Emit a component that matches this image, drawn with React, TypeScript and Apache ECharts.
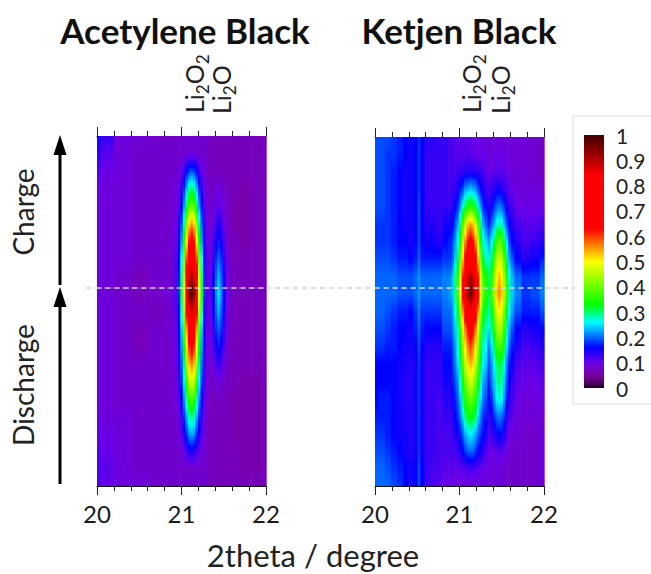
import React, { useEffect, useRef } from "react";
import * as echarts from "echarts";

const chartTitles = ["Acetylene Black", "Ketjen Black"];
const axisTitle = "2theta / degree";
const colorbarTicks = [0, 0.1, 0.2, 0.3, 0.4, 0.5, 0.6, 0.7, 0.8, 0.9, 1];

// Progress through the run (bottom = 0, top = 100) at which every column is sampled
const rowPositions = [0, 5, 10, 15, 20, 25, 30, 35, 40, 45, 50, 55, 60, 65, 70, 75, 80, 85, 90, 95, 100];

// Colour scale: value, colour
const colorStops: [number, string][] = [
  [0, "#200028"], [0.02, "#500060"], [0.05, "#7a00a0"], [0.1, "#6a00e8"], [0.16, "#0000ff"],
  [0.26, "#00ffff"], [0.33, "#00ff00"], [0.5, "#ffff00"], [0.63, "#ff0000"], [0.84, "#ff0000"], [1, "#400000"],
];

const acetyleneX = [20.0, 20.1, 20.3, 20.5, 20.7, 20.85, 20.94, 20.97, 21.0, 21.03, 21.06, 21.09, 21.12, 21.15, 21.18, 21.21, 21.24, 21.27, 21.3, 21.34, 21.38, 21.41, 21.44, 21.47, 21.5, 21.54, 21.62, 21.75, 21.9, 22.0];
const acetyleneValues = [
  [.11,.12,.11,.10,.10,.09,.09,.09,.09,.09,.09,.09,.09,.09,.09,.09,.09,.10,.11,.13,.15],
  [.10,.11,.10,.10,.09,.09,.09,.09,.09,.09,.09,.09,.09,.09,.09,.09,.09,.09,.10,.11,.13],
  [.09,.09,.09,.09,.09,.08,.08,.08,.08,.08,.08,.08,.08,.09,.09,.09,.09,.09,.09,.09,.09],
  [.09,.08,.08,.08,.08,.08,.08,.08,.07,.07,.08,.07,.07,.08,.08,.08,.08,.08,.08,.08,.09],
  [.08,.08,.08,.08,.08,.08,.08,.08,.08,.08,.07,.08,.08,.08,.08,.08,.08,.08,.08,.08,.08],
  [.08,.08,.08,.08,.08,.08,.08,.08,.08,.08,.08,.09,.08,.08,.08,.08,.08,.08,.08,.08,.08],
  [.08,.08,.08,.08,.08,.09,.09,.10,.10,.10,.11,.11,.11,.11,.10,.10,.09,.09,.08,.08,.08],
  [.08,.08,.08,.09,.10,.11,.12,.13,.14,.15,.16,.18,.17,.16,.14,.13,.11,.10,.09,.08,.08],
  [.08,.08,.09,.11,.13,.15,.18,.20,.22,.24,.28,.31,.29,.26,.22,.19,.16,.13,.10,.08,.08],
  [.08,.08,.11,.15,.18,.22,.26,.30,.34,.39,.45,.50,.46,.41,.35,.29,.22,.18,.13,.08,.08],
  [.08,.08,.12,.18,.23,.29,.36,.43,.49,.55,.65,.73,.67,.59,.50,.41,.31,.23,.16,.09,.08],
  [.08,.08,.14,.22,.28,.36,.45,.53,.61,.70,.82,.93,.85,.74,.62,.51,.37,.28,.18,.09,.08],
  [.08,.08,.15,.23,.30,.38,.48,.57,.66,.75,.88,1.0,.92,.80,.67,.55,.40,.30,.19,.09,.08],
  [.08,.08,.14,.22,.28,.36,.45,.53,.61,.70,.82,.93,.85,.74,.62,.51,.37,.28,.18,.09,.08],
  [.08,.08,.12,.18,.23,.29,.36,.43,.49,.55,.65,.73,.67,.59,.50,.41,.31,.23,.16,.09,.08],
  [.08,.08,.11,.15,.18,.22,.26,.30,.34,.39,.45,.50,.46,.41,.35,.29,.22,.18,.13,.08,.08],
  [.08,.08,.09,.11,.13,.15,.18,.20,.22,.24,.28,.31,.29,.26,.22,.19,.16,.13,.10,.08,.08],
  [.08,.08,.08,.09,.10,.11,.12,.13,.14,.15,.16,.18,.17,.16,.14,.13,.11,.10,.09,.08,.08],
  [.08,.08,.08,.08,.08,.09,.09,.10,.10,.10,.11,.11,.11,.11,.10,.10,.09,.09,.08,.08,.08],
  [.07,.07,.07,.07,.07,.07,.08,.08,.09,.09,.10,.11,.10,.09,.09,.08,.08,.07,.07,.07,.07],
  [.07,.07,.07,.07,.07,.07,.08,.10,.12,.13,.15,.16,.15,.13,.12,.10,.09,.08,.07,.07,.07],
  [.07,.07,.07,.07,.07,.07,.09,.12,.15,.18,.20,.22,.20,.18,.15,.13,.10,.09,.07,.07,.07],
  [.07,.07,.07,.07,.07,.07,.09,.13,.17,.20,.23,.25,.23,.20,.17,.14,.11,.09,.07,.07,.07],
  [.07,.07,.07,.07,.07,.07,.09,.12,.15,.18,.20,.22,.20,.18,.15,.13,.10,.09,.07,.07,.07],
  [.07,.07,.07,.07,.07,.07,.08,.10,.12,.13,.15,.16,.15,.13,.12,.10,.09,.08,.07,.07,.07],
  [.07,.07,.07,.07,.07,.07,.07,.08,.08,.09,.09,.10,.09,.09,.08,.08,.08,.07,.07,.07,.07],
  [.07,.07,.07,.06,.06,.06,.07,.07,.07,.07,.07,.07,.07,.07,.07,.06,.06,.07,.07,.07,.07],
  [.07,.06,.06,.06,.06,.06,.06,.07,.07,.07,.07,.07,.07,.07,.06,.06,.06,.06,.07,.07,.07],
  [.07,.06,.06,.06,.06,.06,.06,.07,.07,.07,.07,.07,.07,.07,.07,.07,.07,.07,.07,.07,.07],
  [.07,.07,.07,.07,.07,.07,.07,.07,.07,.07,.07,.07,.07,.07,.07,.07,.07,.07,.07,.07,.07],
];

const ketjenX = [20.0, 20.08, 20.15, 20.22, 20.3, 20.36, 20.42, 20.49, 20.52, 20.55, 20.62, 20.68, 20.75, 20.84, 20.89, 20.92, 20.95, 20.98, 21.01, 21.04, 21.07, 21.1, 21.13, 21.16, 21.19, 21.22, 21.25, 21.28, 21.31, 21.35, 21.38, 21.41, 21.44, 21.47, 21.5, 21.53, 21.56, 21.59, 21.62, 21.68, 21.78, 21.9, 22.0];
const ketjenValues = [
  [.20,.20,.19,.18,.17,.16,.16,.16,.18,.19,.20,.20,.20,.19,.18,.18,.19,.19,.19,.19,.19],
  [.20,.20,.19,.18,.17,.17,.16,.16,.18,.19,.20,.20,.20,.19,.18,.18,.19,.19,.19,.19,.19],
  [.20,.19,.18,.17,.17,.17,.16,.16,.17,.18,.19,.20,.20,.19,.18,.18,.18,.18,.18,.18,.19],
  [.19,.18,.17,.16,.16,.16,.16,.16,.17,.17,.18,.20,.20,.18,.17,.17,.17,.17,.17,.18,.18],
  [.18,.17,.16,.15,.15,.15,.15,.15,.16,.16,.17,.19,.19,.17,.16,.16,.16,.16,.16,.17,.17],
  [.16,.16,.15,.15,.15,.14,.14,.15,.15,.16,.17,.19,.19,.17,.16,.15,.15,.15,.15,.16,.16],
  [.15,.15,.14,.14,.14,.14,.14,.14,.15,.15,.16,.19,.19,.16,.15,.15,.15,.15,.15,.15,.15],
  [.16,.16,.15,.15,.15,.15,.15,.15,.16,.17,.18,.20,.20,.17,.16,.16,.16,.16,.16,.16,.16],
  [.19,.19,.18,.18,.18,.18,.18,.18,.19,.20,.21,.22,.22,.20,.19,.19,.19,.18,.18,.18,.18],
  [.16,.16,.15,.15,.15,.15,.15,.15,.16,.17,.18,.20,.20,.17,.16,.16,.16,.16,.16,.16,.16],
  [.13,.13,.13,.13,.13,.13,.13,.13,.14,.16,.18,.20,.20,.17,.15,.14,.13,.13,.13,.13,.14],
  [.12,.12,.13,.13,.13,.13,.13,.13,.14,.16,.18,.20,.20,.17,.15,.14,.13,.13,.13,.13,.14],
  [.11,.12,.12,.12,.12,.12,.13,.13,.14,.16,.18,.20,.20,.17,.14,.13,.13,.13,.13,.13,.13],
  [.10,.11,.12,.12,.13,.14,.15,.16,.17,.19,.20,.21,.21,.18,.16,.15,.13,.13,.13,.13,.13],
  [.10,.11,.12,.12,.13,.14,.15,.16,.17,.19,.20,.22,.21,.18,.17,.15,.13,.12,.12,.12,.12],
  [.10,.11,.12,.13,.14,.15,.17,.18,.19,.21,.22,.24,.24,.20,.19,.16,.14,.13,.12,.12,.12],
  [.09,.10,.12,.14,.16,.17,.19,.21,.22,.24,.26,.29,.29,.24,.22,.19,.16,.13,.12,.11,.11],
  [.09,.11,.13,.15,.18,.20,.22,.25,.27,.29,.33,.38,.36,.31,.27,.23,.18,.15,.13,.11,.11],
  [.09,.11,.15,.17,.21,.24,.27,.31,.34,.37,.43,.50,.48,.41,.35,.30,.22,.17,.13,.11,.11],
  [.09,.11,.16,.20,.25,.29,.34,.38,.42,.47,.56,.66,.62,.53,.45,.38,.27,.19,.13,.11,.11],
  [.09,.12,.18,.23,.30,.35,.40,.46,.51,.57,.69,.82,.77,.65,.56,.46,.31,.22,.14,.11,.11],
  [.09,.12,.20,.25,.33,.38,.45,.52,.57,.64,.78,.93,.88,.74,.63,.53,.35,.23,.14,.11,.11],
  [.09,.12,.20,.26,.34,.40,.47,.54,.60,.67,.82,.98,.92,.78,.66,.55,.36,.24,.14,.11,.10],
  [.09,.12,.20,.25,.33,.38,.45,.52,.57,.64,.78,.93,.88,.74,.63,.53,.35,.23,.14,.11,.10],
  [.09,.12,.18,.23,.30,.35,.40,.46,.51,.57,.69,.82,.77,.65,.56,.46,.31,.22,.14,.10,.10],
  [.09,.11,.16,.20,.25,.29,.34,.38,.42,.47,.56,.66,.62,.53,.45,.38,.27,.19,.13,.10,.10],
  [.09,.11,.15,.18,.21,.25,.28,.32,.35,.38,.44,.51,.48,.41,.35,.30,.22,.16,.13,.10,.10],
  [.09,.10,.13,.16,.18,.21,.23,.26,.28,.31,.35,.40,.38,.32,.28,.23,.18,.15,.12,.10,.09],
  [.09,.10,.12,.15,.17,.19,.21,.24,.26,.28,.31,.35,.34,.28,.25,.20,.16,.13,.11,.10,.09],
  [.09,.09,.10,.12,.13,.16,.17,.19,.21,.25,.28,.31,.30,.26,.22,.17,.14,.12,.10,.09,.09],
  [.09,.09,.10,.13,.15,.18,.21,.22,.25,.30,.33,.37,.35,.31,.26,.20,.16,.13,.10,.09,.09],
  [.09,.09,.10,.14,.18,.22,.24,.26,.31,.36,.40,.45,.43,.37,.31,.23,.18,.14,.11,.10,.09],
  [.09,.09,.11,.16,.20,.26,.28,.30,.36,.42,.47,.53,.50,.44,.37,.27,.20,.15,.11,.10,.09],
  [.09,.09,.11,.16,.21,.27,.30,.32,.38,.45,.50,.56,.53,.47,.39,.28,.21,.15,.11,.10,.09],
  [.09,.09,.11,.16,.20,.26,.28,.30,.36,.42,.47,.53,.50,.44,.37,.27,.20,.14,.11,.10,.09],
  [.08,.08,.10,.14,.18,.22,.24,.26,.31,.36,.40,.45,.43,.37,.31,.23,.18,.13,.11,.09,.09],
  [.08,.08,.09,.12,.14,.17,.19,.21,.25,.29,.33,.37,.35,.31,.25,.19,.15,.12,.10,.09,.09],
  [.08,.08,.09,.10,.12,.14,.16,.17,.20,.23,.26,.29,.27,.23,.19,.16,.13,.11,.10,.09,.09],
  [.08,.08,.08,.09,.11,.12,.13,.15,.17,.19,.22,.24,.23,.19,.16,.14,.12,.10,.09,.09,.09],
  [.08,.08,.08,.09,.09,.10,.11,.12,.14,.16,.19,.21,.20,.16,.14,.12,.10,.09,.09,.09,.09],
  [.08,.08,.08,.08,.09,.09,.10,.11,.12,.14,.17,.18,.18,.14,.12,.11,.10,.09,.09,.09,.09],
  [.08,.08,.08,.08,.09,.09,.10,.11,.13,.15,.17,.19,.18,.15,.13,.11,.10,.09,.08,.08,.08],
  [.09,.09,.09,.09,.09,.10,.11,.12,.14,.16,.19,.21,.20,.17,.14,.12,.10,.09,.08,.08,.08],
];

function hexRgb(h: string) {
  return [parseInt(h.slice(1, 3), 16), parseInt(h.slice(3, 5), 16), parseInt(h.slice(5, 7), 16)];
}
function colorOf(v: number) {
  for (let i = 1; i < colorStops.length; i++) {
    if (v <= colorStops[i][0]) {
      const [a, ca] = colorStops[i - 1];
      const [b, cb] = colorStops[i];
      const t = (v - a) / (b - a);
      const A = hexRgb(ca), B = hexRgb(cb);
      return `rgb(${A.map((x, k) => Math.round(x + (B[k] - x) * t)).join(",")})`;
    }
  }
  return colorStops[colorStops.length - 1][1];
}
// Vertical gradient of one column: the colour scale is followed between two samples
function columnGradient(vals: number[], pos: number[]) {
  const lo = pos[0], hi = pos[pos.length - 1];
  const stops: { offset: number; color: string }[] = [];
  for (let i = pos.length - 1; i >= 0; i--) {
    stops.push({ offset: (hi - pos[i]) / (hi - lo), color: colorOf(vals[i]) });
    if (i > 0) {
      for (const s of [0.25, 0.5, 0.75]) {
        const p = pos[i] + (pos[i - 1] - pos[i]) * s;
        const v = vals[i] + (vals[i - 1] - vals[i]) * s;
        stops.push({ offset: (hi - p) / (hi - lo), color: colorOf(v) });
      }
    }
  }
  return new echarts.graphic.LinearGradient(0, 0, 0, 1, stops);
}
function stripSeries(xs: number[], vals: number[][], axis: number, yTop: number) {
  const edges = xs.map((x, i) => [
    i === 0 ? x : (xs[i - 1] + x) / 2,
    i === xs.length - 1 ? x : (xs[i + 1] + x) / 2,
  ]);
  return {
    type: "custom",
    xAxisIndex: axis,
    yAxisIndex: axis === 0 ? 0 : 1,
    silent: true,
    data: xs.map((x) => [x, 50]),
    renderItem: (params: any, api: any) => {
      const i = params.dataIndex;
      const a = api.coord([edges[i][0], yTop]);
      const b = api.coord([edges[i][1], 0]);
      return {
        type: "rect",
        shape: { x: a[0], y: a[1], width: b[0] - a[0] + 0.7, height: b[1] - a[1] },
        style: { fill: columnGradient(vals[i], rowPositions) },
      };
    },
  };
}

const FONT = "Lato";
const rotUp = Math.PI / 2;

function tickAxis(gridIndex: number, position: string, labels: boolean) {
  return {
    type: "value", gridIndex, position, min: 20, max: 22, interval: 1,
    axisLine: { show: true, onZero: false, lineStyle: { color: "#111", width: 1 } },
    axisTick: { show: true, length: 9, lineStyle: { color: "#222" } },
    minorTick: { show: true, splitNumber: 5, length: 5, lineStyle: { color: "#222" } },
    splitLine: { show: false },
    axisLabel: { show: labels, fontFamily: FONT, fontSize: 24, color: "#1a1a1a", margin: 15 },
  };
}
function formula(x: number, y: number, withSecondSub: boolean) {
  return {
    type: "text", x, y, rotation: rotUp, z: 20,
    style: {
      text: withSecondSub ? "{a|Li}{s|2}{a|O}{s|2}" : "{a|Li}{s|2}{a|O}",
      align: "left", verticalAlign: "middle",
      rich: {
        a: { fontFamily: FONT, fontSize: 25, lineHeight: 28, padding: [0, 0, 5, 0], verticalAlign: "bottom", fill: "#222" },
        s: { fontFamily: FONT, fontSize: 17, lineHeight: 17, verticalAlign: "bottom", fill: "#222" },
      },
    },
  };
}
function sideText(text: string, x: number, y: number) {
  return {
    type: "text", x, y, rotation: rotUp, z: 20,
    style: { text, font: `28px ${FONT}`, fill: "#222", align: "center", verticalAlign: "middle" },
  };
}
function arrow(x: number, top: number, bottom: number) {
  return [
    { type: "line", z: 20, shape: { x1: x, y1: top + 15, x2: x, y2: bottom }, style: { stroke: "#000", lineWidth: 3 } },
    { type: "polygon", z: 20, shape: { points: [[x, top], [x - 6.5, top + 20], [x + 6.5, top + 20]] }, style: { fill: "#000" } },
  ];
}

export default function App() {
  const ref = useRef<HTMLDivElement>(null);
  useEffect(() => {
    const chart = echarts.init(ref.current!, null, { renderer: "svg" });
    chart.setOption({
      animation: false,
      backgroundColor: "#fff",
      grid: [
        { left: 97, top: 136, width: 169, height: 350 },
        { left: 375, top: 137, width: 169, height: 349 },
        { left: 584, top: 135, width: 20, height: 253 },
      ],
      xAxis: [
        tickAxis(0, "bottom", true),
        tickAxis(0, "top", false),
        tickAxis(1, "bottom", true),
        tickAxis(1, "top", false),
        { type: "value", gridIndex: 2, min: 0, max: 1, show: false },
      ],
      yAxis: [
        { type: "value", gridIndex: 0, min: 0, max: 100, axisLabel: { show: false }, axisTick: { show: false }, splitLine: { show: false }, axisLine: { show: true, lineStyle: { color: "#555" } } },
        { type: "value", gridIndex: 1, min: 0, max: 100, axisLabel: { show: false }, axisTick: { show: false }, splitLine: { show: false }, axisLine: { show: true, lineStyle: { color: "#555" } } },
        {
          type: "value", gridIndex: 2, position: "right", min: 0, max: 1, interval: 0.1,
          axisLine: { show: false }, axisTick: { show: false }, splitLine: { show: false },
          axisLabel: { fontFamily: FONT, fontSize: 21, color: "#222", margin: 12, formatter: (v: number) => String(colorbarTicks.find((t) => Math.abs(t - v) < 1e-6) ?? v) },
        },
      ],
      series: [
        stripSeries(acetyleneX, acetyleneValues, 0, 100),
        stripSeries(ketjenX, ketjenValues, 2, 100),
        {
          type: "custom", xAxisIndex: 4, yAxisIndex: 2, silent: true,
          data: [[0, 1]],
          renderItem: (_: any, api: any) => {
            const a = api.coord([0, 1]);
            const b = api.coord([1, 0]);
            const levels = colorbarTicks.flatMap((t) => [t, t + 0.0334, t + 0.0667]).filter((t) => t <= 1);
            return {
              type: "rect",
              shape: { x: a[0], y: a[1], width: b[0] - a[0], height: b[1] - a[1] },
              style: { fill: columnGradient(levels, levels) },
            };
          },
        },
      ],
      graphic: [
        { type: "rect", z: -1, shape: { x: 573, y: 116, width: 90, height: 288 }, style: { fill: "#fff", stroke: "#ddd", lineWidth: 1 } },
        { type: "text", z: 20, x: 185, y: 30, style: { text: chartTitles[0], font: `bold 35px ${FONT}`, fill: "#111", align: "center", verticalAlign: "middle" } },
        { type: "text", z: 20, x: 459, y: 30, style: { text: chartTitles[1], font: `bold 35px ${FONT}`, fill: "#111", align: "center", verticalAlign: "middle" } },
        { type: "text", z: 20, x: 313, y: 555, style: { text: axisTitle, font: `31px ${FONT}`, fill: "#222", align: "center", verticalAlign: "middle" } },
        formula(197, 113, true),
        formula(224, 114, false),
        formula(474, 113, true),
        formula(503, 114, false),
        sideText("Charge", 23, 212),
        sideText("Discharge", 23, 385),
        ...arrow(60, 135, 285),
        ...arrow(60, 287, 484),
        { type: "line", z: 20, shape: { x1: 86, y1: 288, x2: 575, y2: 288 }, style: { stroke: "#bbb", lineWidth: 1, lineDash: [5, 4] } },
        { type: "line", z: 21, shape: { x1: 97, y1: 288, x2: 266, y2: 288 }, style: { stroke: "#eee", lineWidth: 1, lineDash: [5, 4] } },
        { type: "line", z: 21, shape: { x1: 375, y1: 288, x2: 544, y2: 288 }, style: { stroke: "#eee", lineWidth: 1, lineDash: [5, 4] } },
      ],
    });
    return () => chart.dispose();
  }, []);
  return <div ref={ref} style={{ position: "fixed", left: 0, top: 0, width: 651, height: 574 }} />;
}
